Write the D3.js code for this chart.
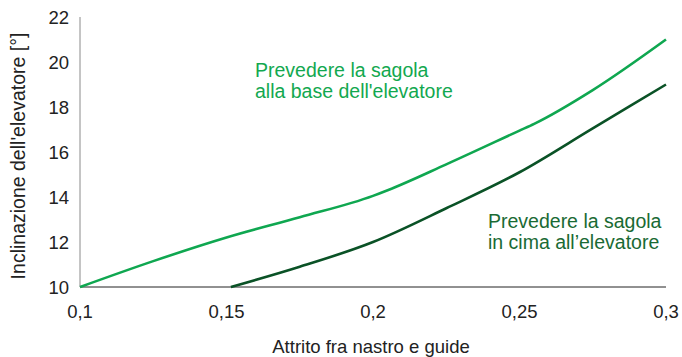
<!DOCTYPE html>
<meta charset="UTF-8">
<style>
body { margin: 0; background: #fff; }
text { font-family: "Liberation Sans", Arial, sans-serif; }
.tick-label { font-size: 18.5px; fill: #222; }
.axis-title { fill: #222; }
</style>
<body>
<script src="https://d3js.org/d3.v7.min.js"></script>
<script>
// friction values (x) and inclination (y)
var baseX = [0.1, 0.125, 0.15, 0.175, 0.2, 0.205, 0.225, 0.25, 0.255, 0.275, 0.3];
var baseY = [10, 11.15, 12.2, 13.1, 14.05, 14.3, 15.45, 16.95, 17.25, 18.75, 21.0];
var topX = [0.1515, 0.175, 0.2, 0.225, 0.25, 0.275, 0.3];
var topY = [10, 10.9, 12.0, 13.5, 15.1, 17.05, 19.0];
var xTicks = [0.1, 0.15, 0.2, 0.25, 0.3];
var yTicks = [10, 12, 14, 16, 18, 20, 22];

var width = 682, height = 357;
var margin = {top: 17, right: 16, bottom: 70, left: 80};

var svg = d3.select("body").append("svg")
    .attr("width", width)
    .attr("height", height);

var x = d3.scaleLinear().domain([0.1, 0.3]).range([margin.left, width - margin.right]);
var y = d3.scaleLinear().domain([10, 22]).range([height - margin.bottom, margin.top]);

var fmt = function(d) { return String(d).replace(".", ","); };

// axis lines
svg.append("line")
    .attr("x1", x(0.1)).attr("x2", x(0.1))
    .attr("y1", y(22)).attr("y2", y(10))
    .attr("stroke", "#8a8a8a").attr("stroke-width", 1);
svg.append("line")
    .attr("x1", x(0.1)).attr("x2", x(0.3))
    .attr("y1", y(10)).attr("y2", y(10))
    .attr("stroke", "#222").attr("stroke-width", 1);

// tick labels
svg.selectAll(".xt").data(xTicks).enter().append("text")
    .attr("class", "tick-label")
    .attr("x", function(d) { return x(d); })
    .attr("y", y(10) + 31)
    .attr("text-anchor", "middle")
    .text(fmt);
svg.selectAll(".yt").data(yTicks).enter().append("text")
    .attr("class", "tick-label")
    .attr("x", x(0.1) - 11)
    .attr("y", function(d) { return y(d) + 7; })
    .attr("text-anchor", "end")
    .text(fmt);

// axis titles
svg.append("text")
    .attr("class", "axis-title")
    .attr("font-size", 18.5)
    .attr("x", 371).attr("y", 353)
    .attr("text-anchor", "middle")
    .text("Attrito fra nastro e guide");
svg.append("text")
    .attr("class", "axis-title")
    .attr("font-size", 19.5)
    .attr("transform", "translate(25," + 156 + ") rotate(-90)")
    .attr("text-anchor", "middle")
    .text("Inclinazione dell'elevatore [°]");

var line = d3.line()
    .x(function(d) { return x(d[0]); })
    .y(function(d) { return y(d[1]); })
    .curve(d3.curveMonotoneX);

svg.append("path")
    .datum(d3.zip(baseX, baseY))
    .attr("fill", "none")
    .attr("stroke", "#0fa750")
    .attr("stroke-width", 2.6)
    .attr("d", line);
svg.append("path")
    .datum(d3.zip(topX, topY))
    .attr("fill", "none")
    .attr("stroke", "#0a5226")
    .attr("stroke-width", 2.6)
    .attr("d", line);

// series labels
var lab1 = svg.append("text").attr("font-size", 19.5).attr("fill", "#12a84f");
lab1.append("tspan").attr("x", 255).attr("y", 77).text("Prevedere la sagola");
lab1.append("tspan").attr("x", 255).attr("y", 98).text("alla base dell'elevatore");

var lab2 = svg.append("text").attr("font-size", 19.5).attr("fill", "#1a6a34");
lab2.append("tspan").attr("x", 488).attr("y", 228).text("Prevedere la sagola");
lab2.append("tspan").attr("x", 488).attr("y", 249).text("in cima all\u2019elevatore");
</script>
</body>
